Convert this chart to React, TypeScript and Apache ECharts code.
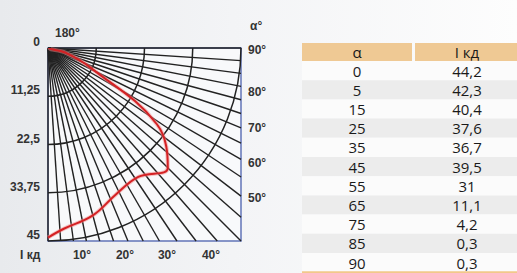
import React, { useEffect, useRef } from "react";
import * as echarts from "echarts";

const alphaDeg = [0, 5, 15, 25, 35, 45, 55, 65, 75, 85, 90];
const intensity = [44.2, 42.3, 40.4, 37.6, 36.7, 39.5, 31, 11.1, 4.2, 0.3, 0.3];

// Diagram grid
const radiusTicks = [0, 11.25, 22.5, 33.75, 45];
const arcRadii = [11.25, 22.5, 33.75, 45];
const spokeAngles = [
  0, 3.75, 7.5, 11.25, 15, 18.75, 22.5, 26.25, 30, 33.75, 37.5, 41.25, 45,
  48.75, 52.5, 56.25, 60, 63.75, 67.5, 71.25, 75, 78.75, 82.5, 86.25, 90,
];
const bottomAngleLabels = ["10°", "20°", "30°", "40°"];
const rightAngleLabels = ["90°", "80°", "70°", "60°", "50°"];
const tableHeaders = ["α", "I кд"];

const RMAX = 45;
const rad = (d: number) => (d * Math.PI) / 180;
const fmt = (v: number) => String(v).replace(".", ",");

export default function App() {
  const ref = useRef<HTMLDivElement>(null);
  useEffect(() => {
    if (!ref.current) return;
    const chart = echarts.init(ref.current, null, { renderer: "svg" });

    const curve = alphaDeg.map((a, i) => [
      intensity[i] * Math.sin(rad(a)),
      intensity[i] * Math.cos(rad(a)),
    ]);

    const labelFont = {
      fontFamily: "Liberation Sans",
      fontWeight: "bold" as const,
      fontSize: 12,
      color: "#333",
    };
    const lblStyle = (text: string, align: string) => ({
      text,
      fill: "#333",
      font: "bold 12px 'Liberation Sans'",
      textAlign: align,
      textVerticalAlign: "middle",
    });

    const graphics: any[] = [];
    const bx = [82, 125, 167, 211];
    bottomAngleLabels.forEach((t, i) =>
      graphics.push({ type: "text", x: bx[i], y: 255, style: lblStyle(t, "center") })
    );
    graphics.push({ type: "text", x: 20, y: 255, style: lblStyle("I кд", "left") });
    const ry = [50, 92, 128, 163, 198];
    rightAngleLabels.forEach((t, i) =>
      graphics.push({ type: "text", x: 248, y: ry[i], style: lblStyle(t, "left") })
    );
    graphics.push({ type: "text", x: 250, y: 26, style: lblStyle("α°", "left") });
    graphics.push({ type: "text", x: 55, y: 33, style: lblStyle("180°", "left") });

    // table
    const tx0 = 302;
    const tx1 = 517;
    const colSplit = 413;
    const headTop = 43;
    const headH = 18;
    const rowH = 19.2;
    const colCx = [357, 467];
    const tableFont = "500 15px 'Open Sans'";
    graphics.push({
      type: "rect",
      shape: { x: tx0, y: headTop, width: colSplit - tx0 - 1, height: headH },
      style: { fill: "#efc994" },
    });
    graphics.push({
      type: "rect",
      shape: { x: colSplit + 2, y: headTop, width: tx1 - colSplit - 2, height: headH },
      style: { fill: "#efc994" },
    });
    tableHeaders.forEach((h, i) =>
      graphics.push({
        type: "text",
        x: colCx[i],
        y: headTop + headH / 2,
        style: {
          text: h,
          fill: "#1a1a1a",
          font: tableFont,
          textAlign: "center",
          textVerticalAlign: "middle",
        },
      })
    );
    alphaDeg.forEach((a, i) => {
      const y = headTop + headH + i * rowH;
      graphics.push({
        type: "rect",
        shape: { x: tx0, y, width: tx1 - tx0, height: rowH },
        style: { fill: i % 2 === 1 ? "#ececec" : "#fbfbfb" },
      });
      [fmt(a), fmt(intensity[i])].forEach((t, c) =>
        graphics.push({
          type: "text",
          x: colCx[c],
          y: y + rowH / 2,
          style: {
            text: t,
            fill: "#1a1a1a",
            font: tableFont,
            textAlign: "center",
            textVerticalAlign: "middle",
          },
        })
      );
    });
    graphics.push({
      type: "rect",
      shape: { x: tx0, y: headTop + headH + alphaDeg.length * rowH - 1, width: tx1 - tx0, height: 2 },
      style: { fill: "#f2c88a" },
    });

    chart.setOption({
      animation: false,
      backgroundColor: {
        type: "linear",
        x: 0,
        y: 0,
        x2: 1,
        y2: 0,
        colorStops: [
          { offset: 0, color: "#e8eaed" },
          { offset: 0.45, color: "#f3f4f6" },
          { offset: 1, color: "#fdfdfd" },
        ],
      },
      grid: {
        left: 48,
        top: 48,
        width: 193,
        height: 193,
        show: true,
        borderColor: "#6274b8",
        borderWidth: 1.5,
        backgroundColor: "#f8f9fb",
      },
      xAxis: {
        type: "value",
        min: 0,
        max: RMAX,
        axisLine: { show: false },
        axisTick: { show: false },
        axisLabel: { show: false },
        splitLine: { show: false },
      },
      yAxis: {
        type: "value",
        inverse: true,
        min: 0,
        max: RMAX,
        interval: radiusTicks[1],
        axisLine: { show: false },
        axisTick: { show: false },
        splitLine: { show: false },
        axisLabel: {
          ...labelFont,
          margin: 8,
          verticalAlign: "bottom",
          formatter: (v: number) => fmt(v),
        },
      },
      graphic: graphics,
      series: [
        {
          type: "custom",
          name: "spokes",
          silent: true,
          data: spokeAngles.map(() => [0, 0]),
          renderItem: (params: any, api: any) => {
            const a = rad(spokeAngles[params.dataIndex]);
            const s = Math.sin(a);
            const c = Math.cos(a);
            const t = RMAX / Math.max(s, c);
            const p0 = api.coord([0, 0]);
            const p1 = api.coord([t * s, t * c]);
            return {
              type: "line",
              shape: { x1: p0[0], y1: p0[1], x2: p1[0], y2: p1[1] },
              style: { stroke: "#222", lineWidth: 1.4 },
            };
          },
        },
        {
          type: "custom",
          name: "arcs",
          silent: true,
          data: arcRadii.map(() => [0, 0]),
          renderItem: (params: any, api: any) => {
            const r = arcRadii[params.dataIndex];
            const p0 = api.coord([0, 0]);
            const pr = api.coord([r, 0]);
            return {
              type: "arc",
              shape: {
                cx: p0[0],
                cy: p0[1],
                r: pr[0] - p0[0],
                startAngle: 0,
                endAngle: Math.PI / 2,
                clockwise: true,
              },
              style: { stroke: "#222", lineWidth: 1.5, fill: "none" },
            };
          },
        },
        {
          type: "line",
          name: "I кд",
          data: curve,
          smooth: 0.4,
          showSymbol: false,
          lineStyle: { color: "#f28a8a", width: 4, opacity: 0.5 },
          z: 3,
        },
        {
          type: "line",
          name: "I кд",
          data: curve,
          smooth: 0.4,
          showSymbol: false,
          lineStyle: { color: "#d42124", width: 2 },
          z: 4,
        },
      ],
    });
    return () => chart.dispose();
  }, []);
  return (
    <div
      ref={ref}
      style={{ position: "fixed", left: 0, top: 0, width: 517, height: 273 }}
    />
  );
}
